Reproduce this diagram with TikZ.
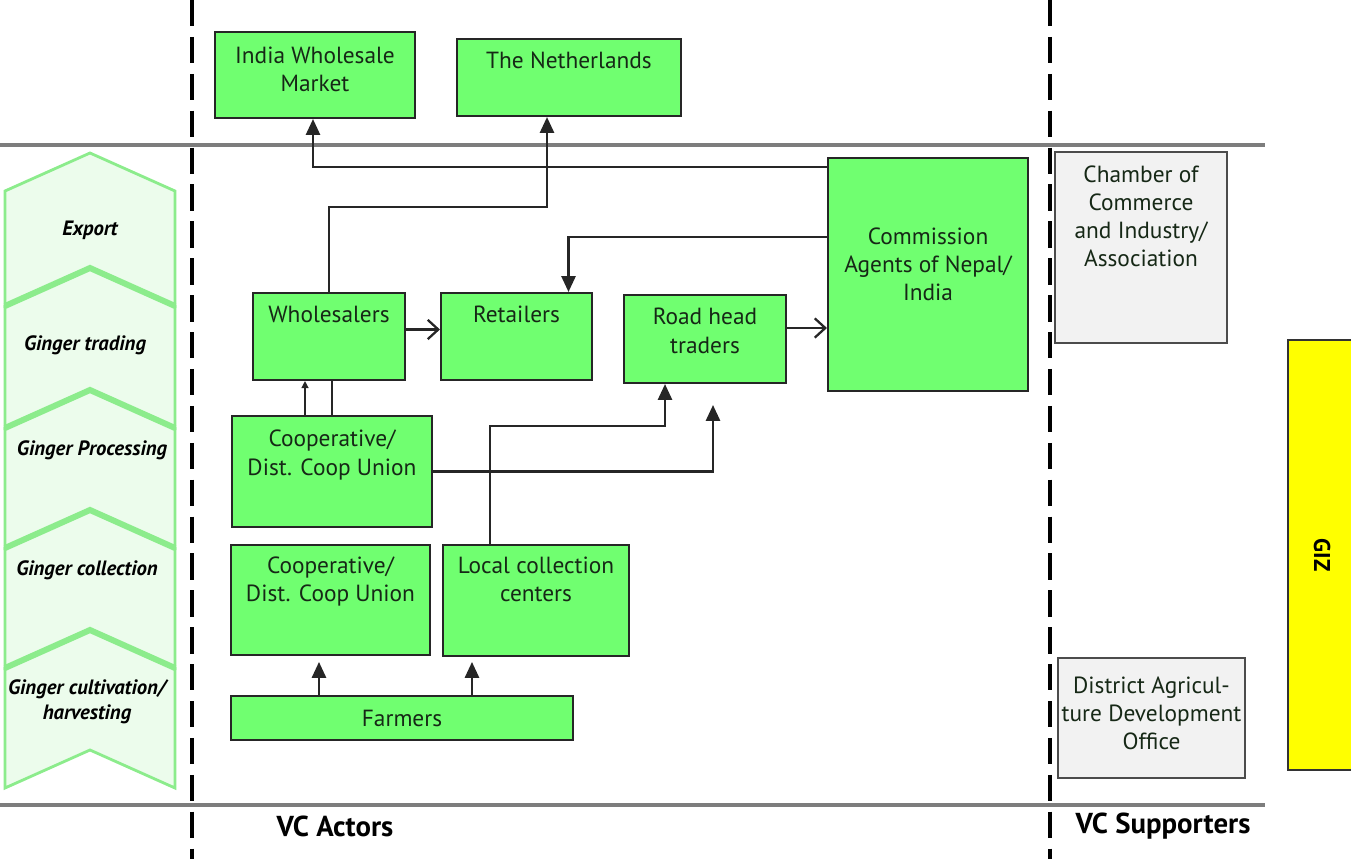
\documentclass[tikz,border=0pt]{standalone}
\usepackage{fontspec}
\setmainfont{PT Sans}
\usetikzlibrary{arrows.meta,calc}

\definecolor{actorgreen}{RGB}{112,255,112}
\definecolor{stagefill}{RGB}{236,252,236}
\definecolor{stageline}{RGB}{140,236,140}
\definecolor{railgray}{RGB}{125,125,125}
\definecolor{supportfill}{RGB}{242,242,242}
\definecolor{gizyellow}{RGB}{255,255,0}
\definecolor{boxink}{RGB}{22,40,22}

\newcommand\boxfont{\fontsize{13.3}{16}\selectfont\color{boxink}}

\tikzset{
  actor/.style={draw=black!85, line width=1.2pt, fill=actorgreen, inner sep=0pt,
    font=\boxfont, align=center},
  supporter/.style={draw=black!70, line width=1pt, fill=supportfill, inner sep=0pt,
    font=\boxfont, align=center},
  toptext/.style 2 args={label={[anchor=north, yshift=#1, align=center, inner sep=0pt,
    font=\boxfont]north:#2}},
  stage/.style={fill=stagefill, draw=stageline, line width=1.6pt, line join=miter},
  stagesep/.style={draw=stageline, line width=3.4pt},
  stagetext/.style={font=\fontsize{11.8}{14.5}\selectfont\bfseries\itshape, align=center},
  rail/.style={draw=railgray, line width=2.4pt},
  divider/.style={draw=black, line width=2.2pt, dash pattern=on 15pt off 6pt},
  flow/.style={draw=black!85, line width=1.3pt, -{Triangle[length=9pt,width=8pt]}},
  push/.style={draw=black!85, line width=1.3pt, -{Straight Barb[length=6pt,width=11pt]}},
  thinflow/.style={draw=black!85, line width=0.7pt, -{Triangle[length=4pt,width=4pt]}},
  link/.style={draw=black!85, line width=1.3pt},
  caption/.style={font=\fontsize{16.4}{19}\selectfont\bfseries}
}

\begin{document}
\begin{tikzpicture}[x=0.02cm, y=-0.02cm]
  \useasboundingbox (0,0) rectangle (1351,859);

  %===== rails and dividers =====%
  \draw[rail] (0,145) -- (1265,145);
  \draw[rail] (0,805) -- (1265,805);
  \draw[divider] (192,0) -- (192,859);
  \draw[divider] (1050,0) -- (1050,859);

  %===== value chain stages =====%
  \foreach \t/\b in {153/268,268/390,390/510,510/630,630/750}
    \filldraw[stage] (5,\t+38) -- (90,\t) -- (175,\t+38) -- (175,\b+38)
      -- (90,\b) -- (5,\b+38) -- cycle;
  \foreach \t in {268,390,510,630}
    \draw[stagesep] (5,\t+38) -- (90,\t) -- (175,\t+38);

  \node[stagetext] (sexport) at (90,230) {Export};
  \node[stagetext] (strading) at (85,345) {Ginger trading};
  \node[stagetext] (sprocess) at (92,450) {Ginger Processing};
  \node[stagetext] (scollect) at (87,570) {Ginger collection};
  \node[stagetext] (scultivate) at (87,702) {Ginger cultivation/\\harvesting};

  %===== VC actors =====%
  \node[actor, minimum width=4cm, minimum height=1.72cm,
    toptext={-9pt}{India Wholesale\\Market}] (india) at (315,75) {};
  \node[actor, minimum width=4.48cm, minimum height=1.54cm,
    toptext={-8pt}{The Netherlands}] (neth) at (569,77.5) {};
  \node[actor, minimum width=3.04cm, minimum height=1.74cm,
    toptext={-8pt}{Wholesalers}] (whole) at (329,336.5) {};
  \node[actor, minimum width=3.02cm, minimum height=1.74cm,
    toptext={-8pt}{Retailers}] (retail) at (516.5,336.5) {};
  \node[actor, minimum width=3.24cm, minimum height=1.76cm,
    toptext={-8pt}{Road head\\traders}] (road) at (705,339) {};
  \node[actor, minimum width=4cm, minimum height=4.66cm,
    toptext={-40pt}{Commission\\Agents of Nepal/\\India}] (comm) at (928,274.5) {};
  \node[actor, minimum width=4cm, minimum height=2.22cm,
    toptext={-8.5pt}{Cooperative/\\Dist. Coop Union}] (coopP) at (332,471.5) {};
  \node[actor, minimum width=3.98cm, minimum height=2.2cm,
    toptext={-7pt}{Cooperative/\\Dist. Coop Union}] (coopC) at (330.5,600) {};
  \node[actor, minimum width=3.72cm, minimum height=2.22cm,
    toptext={-7pt}{Local collection\\centers}] (local) at (536,600.5) {};
  \node[actor, minimum width=6.84cm, minimum height=0.88cm]
    (farm) at (402,718) {Farmers};

  %===== VC supporters =====%
  \node[supporter, minimum width=3.44cm, minimum height=3.82cm,
    toptext={-8pt}{Chamber of\\Commerce\\and Industry/\\Association}] (chamber) at (1141,247.5) {};
  \node[supporter, minimum width=3.74cm, minimum height=2.4cm,
    toptext={-11pt}{District Agricul-\\ture Development\\Office}] (district) at (1151.5,718) {};
  \node[draw=black!80, line width=1pt, fill=gizyellow, minimum width=1.36cm,
    minimum height=8.6cm, inner sep=0pt, font=\fontsize{13}{15}\selectfont\bfseries]
    (giz) at (1322,555) {\rotatebox{-90}{GIZ}};

  %===== connectors =====%
  \draw[flow] ($(comm.north west)+(0,10)$) -| ($(india.south)+(-2,0)$);
  \draw[flow] (whole.north) -- ++(0,-85) -| ($(neth.south)+(-22,0)$);
  \draw[flow] ($(comm.north west)+(0,80)$) -| ($(retail.north)+(52,0)$);
  \draw[push] ($(whole.east)+(0,-7)$) -- ($(retail.west)+(0,-7)$);
  \path ($(road.east)+(0,-11)$) coordinate (roadout);
  \draw[push] (roadout) -- (roadout -| comm.west);
  \draw[thinflow] ($(coopP.north)+(-27,0)$) -- ($(whole.south)+(-24,0)$);
  \draw[link] (coopP.north) -- (coopP.north |- whole.south);
  \draw[flow] ($(local.north)+(-46,0)$) -- ++(0,-118) -| ($(road.south)+(-40,0)$);
  \coordinate (roadgap) at (713,405);
  \draw[flow] (coopP.east) -| (roadgap);
  \draw[flow] ($(farm.north west)+(89,0)$) -- ($(farm.north west)+(89,-33)$);
  \draw[flow] ($(farm.north west)+(242,0)$) -- ($(farm.north west)+(242,-33)$);

  %===== captions =====%
  \node[caption] (actors) at (335,826) {VC Actors};
  \node[caption] (supporters) at (1163,826) {VC Supporters};
\end{tikzpicture}
\end{document}
